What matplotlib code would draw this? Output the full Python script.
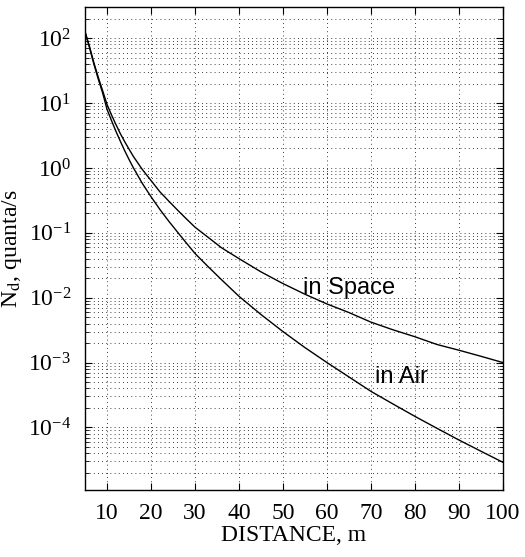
import matplotlib
matplotlib.use("Agg")
import matplotlib.pyplot as plt
from matplotlib.ticker import LogLocator, FixedLocator, NullFormatter

# distances (m)
dist = [5, 6, 7, 8, 9, 10, 11, 12, 13, 14, 15, 16, 18, 20, 22, 24, 26, 28, 30, 33, 36, 40,
        45, 50, 55, 60, 65, 70, 75, 80, 85, 90, 95, 100]
# N_d in space (quanta/s)
n_space = [125, 75, 42, 25, 15.5, 9.5, 6.6, 4.7, 3.4, 2.55, 1.95, 1.5, 0.95, 0.64, 0.43, 0.31,
           0.225, 0.165, 0.122, 0.085, 0.059, 0.040, 0.025, 0.0165, 0.0113, 0.0080, 0.0059,
           0.0042, 0.0032, 0.0025, 0.0019, 0.00155, 0.00125, 0.0010]
# N_d in air (quanta/s)
n_air = [125, 72, 40, 23.5, 14.3, 8.0, 5.4, 3.7, 2.6, 1.85, 1.35, 1.0, 0.58, 0.36, 0.23, 0.152,
         0.103, 0.070, 0.048, 0.030, 0.019, 0.0105, 0.0055, 0.0030, 0.0017, 0.00100, 0.00060,
         0.00036, 0.00023, 0.000148, 0.000097, 0.000064, 0.000043, 0.000029]

xticks = [10, 20, 30, 40, 50, 60, 70, 80, 90, 100]
yticks = [1e-4, 1e-3, 1e-2, 1e-1, 1e0, 1e1, 1e2]

plt.rcParams['mathtext.fontset'] = 'stix'
serif = ['Liberation Serif', 'DejaVu Serif']
sans = ['Liberation Sans', 'DejaVu Sans']

fig = plt.figure(figsize=(5.25, 5.57), dpi=100)
ax = fig.add_axes([0.162, 0.120, 0.796, 0.867])

ax.semilogy(dist, n_space, color='black', lw=1.0)
ax.semilogy(dist, n_air, color='black', lw=1.0)

ax.set_xlim(5, 100)
ax.set_ylim(1.08e-5, 300)

ax.xaxis.set_major_locator(FixedLocator(xticks))
ax.yaxis.set_major_locator(FixedLocator(yticks))
ax.yaxis.set_minor_locator(LogLocator(base=10, subs=range(2, 10), numticks=20))
ax.yaxis.set_minor_formatter(NullFormatter())

dot = (0, (1, 4))
ax.grid(True, which='major', axis='both', color='black', lw=0.6, linestyle=dot)
ax.grid(True, which='minor', axis='y', color='black', lw=0.6, linestyle=dot)

ax.tick_params(which='both', direction='in', top=True, right=True)
ax.tick_params(which='major', length=5, width=0.8, labelsize=17)
ax.tick_params(axis='x', which='major', pad=9)
ax.tick_params(axis='y', which='major', pad=10)
ax.tick_params(which='minor', length=3, width=0.6)
for lab in ax.get_xticklabels() + ax.get_yticklabels():
    lab.set_family(serif)
for s in ax.spines.values():
    s.set_linewidth(1.0)

ax.set_xlabel('DISTANCE, m', fontsize=17, family=serif, labelpad=1)
ax.set_ylabel(r'N$_{\mathrm{d}}$, quanta/s', fontsize=17, family=serif, labelpad=3)

ax.text(54.5, 0.0116, 'in Space', fontsize=17, family=sans, va='baseline', ha='left')
ax.text(70.8, 4.9e-4, 'in Air', fontsize=17, family=sans, va='baseline', ha='left')

fig.savefig('out.png', dpi=100)
